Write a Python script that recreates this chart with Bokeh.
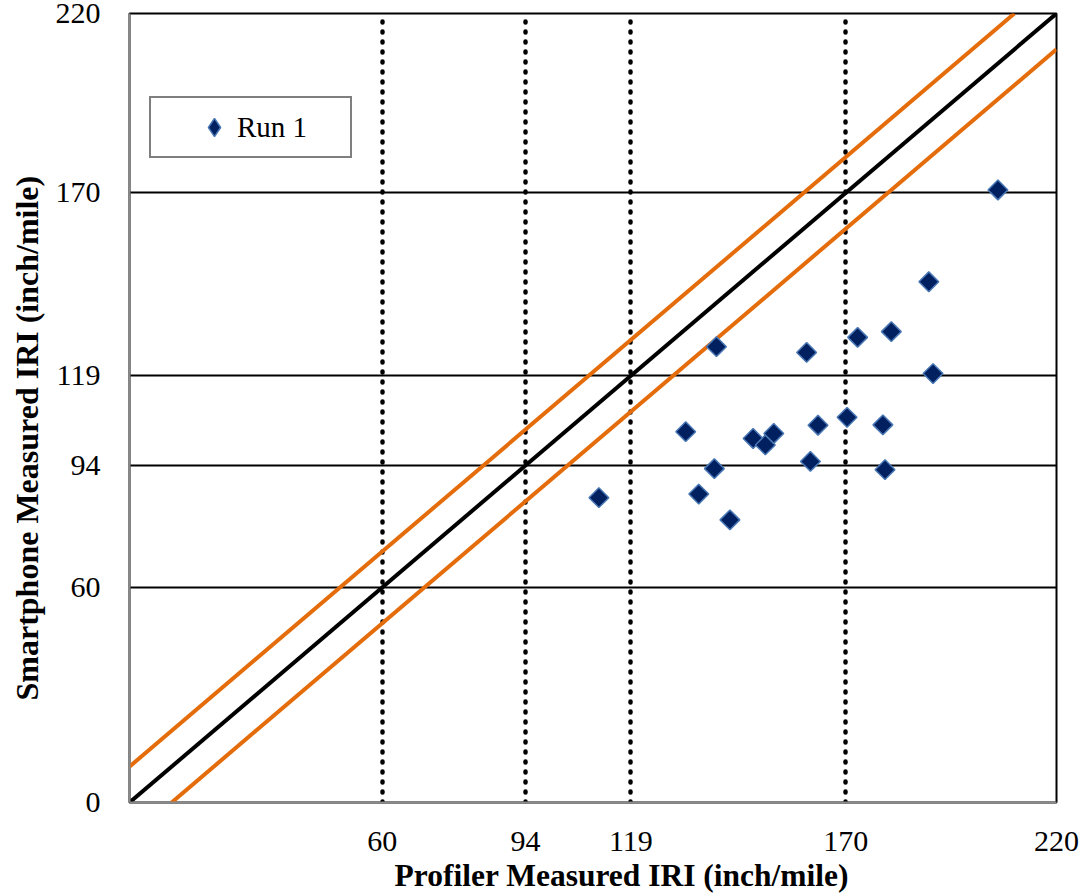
import numpy as np
from bokeh.plotting import figure
from bokeh.models import Range1d, FixedTicker, Legend, LegendItem, Title
from bokeh.embed import file_html
from bokeh.resources import INLINE

# ---- data ----
profiler_iri = [111.4, 132.0, 135.1, 138.8, 139.3, 142.5, 148.0, 150.9, 152.9, 160.7,
                161.6, 163.4, 170.3, 172.8, 178.8, 179.3, 180.8, 189.7, 190.7, 206.1]
smartphone_iri = [85.0, 103.4, 86.0, 93.1, 127.1, 78.8, 101.5, 99.7, 102.9, 125.5,
                  95.1, 105.2, 107.4, 129.7, 105.3, 92.8, 131.3, 145.2, 119.6, 170.8]
x_ticks = [60, 94, 119, 170, 220]
y_ticks = [0, 60, 94, 119, 170, 220]
grid_levels = [60, 94, 119, 170]
axis_min, axis_max = 0, 220
band = 10
series_label = "Run 1"
x_title = "Profiler Measured IRI (inch/mile)"
y_title = "Smartphone Measured IRI (inch/mile)"

FONT = "Liberation Serif"
FILL = "#002060"
EDGE = "#4a78b4"

p = figure(width=1085, height=894,
           x_range=Range1d(axis_min, axis_max), y_range=Range1d(axis_min, axis_max),
           output_backend="svg", toolbar_location=None,
           min_border_left=129, min_border_right=29, min_border_top=13, min_border_bottom=92)
p.background_fill_color = "white"
p.border_fill_color = "white"
p.outline_line_color = "black"
p.outline_line_width = 2

# axes
p.xaxis.ticker = FixedTicker(ticks=x_ticks)
p.yaxis.ticker = FixedTicker(ticks=y_ticks)
for ax in (p.xaxis, p.yaxis):
    ax.major_tick_line_color = None
    ax.minor_tick_line_color = None
    ax.axis_line_color = "#8a8a8a"
    ax.axis_line_width = 2
    ax.major_label_text_font = FONT
    ax.major_label_text_font_size = "30px"
    ax.major_label_text_color = "black"
p.xaxis.major_label_standoff = 23
p.yaxis.major_label_standoff = 23

# grids
p.xgrid.ticker = FixedTicker(ticks=grid_levels)
p.xgrid.grid_line_color = "black"
p.xgrid.grid_line_width = 4.5
p.xgrid.grid_line_dash = "1 9"
p.xgrid.grid_line_cap = "round"
p.ygrid.ticker = FixedTicker(ticks=grid_levels)
p.ygrid.grid_line_color = "black"
p.ygrid.grid_line_width = 2

# reference lines
p.line([axis_min, axis_max], [axis_min, axis_max], line_color="black", line_width=4)
p.line([axis_min, axis_max - band], [axis_min + band, axis_max], line_color="#E46C0A", line_width=4)
p.line([axis_min + band, axis_max], [axis_min, axis_max - band], line_color="#E46C0A", line_width=4)

# diamond-shaped twin (hidden under the rotated squares) used for the legend symbol
legend_r = p.scatter(profiler_iri, smartphone_iri, marker="diamond", size=18,
                     fill_color=FILL, line_color=EDGE, line_width=1.5)
r = p.scatter(profiler_iri, smartphone_iri, marker="square", size=14, angle=np.pi / 4,
              fill_color=FILL, line_color=EDGE, line_width=1.5)

leg = Legend(items=[LegendItem(label=series_label, renderers=[legend_r])],
             location=(20, 644), margin=0,
             border_line_color="black", border_line_width=2,
             background_fill_color="white", background_fill_alpha=1,
             label_text_font=FONT, label_text_font_size="29px", label_text_color="black",
             glyph_width=46, glyph_height=50, label_standoff=0)
try:
    leg.padding = dict(left=40, right=43, top=4, bottom=4)
except Exception:
    leg.padding = 5
p.add_layout(leg, "center")

xt = Title(text=x_title, align="left", offset=265, vertical_align="bottom", standoff=4,
           text_font=FONT, text_font_style="bold", text_font_size="31.5px", text_color="black")
p.add_layout(xt, "below")
yt = Title(text=y_title, align="left", offset=102, vertical_align="top", standoff=12,
           text_font=FONT, text_font_style="bold", text_font_size="32px", text_color="black")
p.add_layout(yt, "left")

open("out.html", "w").write(file_html(p, INLINE))
